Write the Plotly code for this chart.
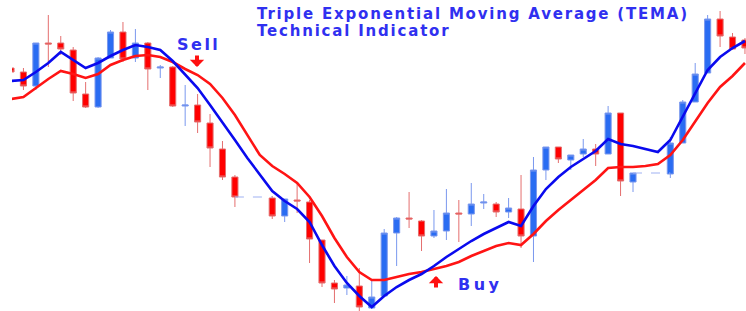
import plotly.graph_objects as go

# ---------------- data (price units) ----------------
candle_idx = [0, 1, 2, 3, 4, 5, 6, 7, 8, 9, 10, 11, 12, 13, 14, 15, 16, 17, 18,
              21, 22, 23, 24, 25, 26, 27, 28, 29, 30, 31, 32, 33, 34, 35, 36, 37, 38, 39, 40,
              41, 42, 43, 44, 45, 46, 47, 48, 49, 50,
              53, 54, 55, 56, 57, 58, 59]
opens  = [243, 239, 225, 268, 268, 261, 217, 204, 253, 279, 253, 268, 243, 244, 205, 206, 188, 162, 134,
          113, 95, 111, 109, 71, 28, 23, 25, 3, 15, 78, 93, 90, 75, 80, 98, 97, 108, 107, 99,
          102, 75, 141, 164, 151, 157, 162, 157, 198, 129,
          137, 168, 209, 238, 292, 274, 271]
highs  = [245, 243, 268, 296, 275, 264, 229, 254, 281, 289, 282, 269, 246, 245, 226, 217, 197, 170, 136,
          115, 112, 127, 111, 71, 31, 35, 43, 31, 82, 94, 119, 91, 101, 122, 111, 128, 117, 109, 113,
          136, 154, 164, 164, 156, 172, 167, 205, 198, 138,
          174, 211, 248, 296, 300, 278, 273]
lows   = [237, 221, 221, 244, 256, 210, 203, 203, 253, 249, 249, 221, 233, 204, 185, 178, 144, 131, 104,
          92, 89, 98, 48, 24, 8, 16, 0, 2, 14, 45, 83, 60, 73, 71, 69, 85, 102, 94, 93,
          63, 49, 131, 148, 141, 154, 145, 157, 115, 119,
          133, 168, 209, 238, 264, 261, 257]
closes = [239, 225, 268, 267, 262, 218, 204, 253, 279, 252, 268, 242, 244, 205, 206, 189, 163, 134, 114,
          95, 112, 110, 72, 28, 22, 26, 4, 14, 78, 93, 92, 75, 80, 98, 97, 107, 109, 99, 103,
          75, 141, 164, 152, 156, 162, 157, 198, 130, 138,
          168, 209, 237, 292, 275, 262, 263]

line_idx = list(range(60))
tema_fast = [230, 231, 239, 248, 259, 251, 243, 248, 255, 261, 266, 264, 261, 250, 237, 223, 206, 189, 171, 153,
             136, 120, 110, 102, 89, 66, 45, 28, 15, 4, 15, 24, 31, 37, 45, 54, 62, 70, 77, 83,
             89, 85, 105, 122, 134, 144, 152, 160, 172, 167, 165, 162, 159, 171, 194, 218, 241, 254, 263, 270]
tema_slow = [212, 214, 223, 232, 240, 237, 233, 237, 246, 251, 255, 256, 254, 249, 242, 236, 227, 213, 196, 176,
             156, 145, 137, 128, 114, 95, 73, 54, 39, 31, 31, 34, 37, 39, 42, 45, 49, 55, 60, 65,
             68, 66, 77, 90, 101, 111, 121, 131, 143, 144, 144, 145, 147, 156, 171, 189, 208, 224, 235, 248]

gaps = [(18, 21), (50, 53)]   # sessions without candles

title_lines = ["Triple Exponential Moving Average (TEMA)", "Technical Indicator"]
sell_label = "Sell"
buy_label = "Buy"

# ---------------- figure ----------------
W, H = 746, 311
ML = 12


def px(x):
    return (x - ML) / (W - ML)


def py(y):
    return 1 - y / H


def spaced(t, ls):
    return f'<span style="letter-spacing:{ls}px">{t}</span>'


fig = go.Figure()

close_of = dict(zip(candle_idx, closes))
for a, b in gaps:
    fig.add_trace(go.Scatter(x=[a, b], y=[close_of[a], close_of[a]], mode="lines",
                             line=dict(color="#9fb1f2", width=1, dash="dash"),
                             hoverinfo="skip", showlegend=False))

fig.add_trace(go.Candlestick(
    x=candle_idx, open=opens, high=highs, low=lows, close=closes,
    increasing=dict(line=dict(color="#7a98ee", width=1), fillcolor="#2a6cf2"),
    decreasing=dict(line=dict(color="#e46f6f", width=1), fillcolor="#ff0000"),
    whiskerwidth=0, showlegend=False, hoverinfo="skip"))

fig.add_trace(go.Scatter(x=line_idx, y=tema_slow, mode="lines",
                         line=dict(color="#ff1414", width=2.6), showlegend=False, hoverinfo="skip"))
fig.add_trace(go.Scatter(x=line_idx, y=tema_fast, mode="lines",
                         line=dict(color="#0a0aee", width=2.6), showlegend=False, hoverinfo="skip"))

title_font = dict(family="DejaVu Sans", size=15, color="#3030f0", weight="bold")
label_font = dict(family="DejaVu Sans", size=16, color="#3030f0", weight="bold")

fig.add_annotation(x=px(255), y=py(13.5), xref="paper", yref="paper", text=spaced(title_lines[0], 1.8),
                   showarrow=False, xanchor="left", yanchor="middle", font=title_font)
fig.add_annotation(x=px(255), y=py(30.5), xref="paper", yref="paper", text=spaced(title_lines[1], 1.8),
                   showarrow=False, xanchor="left", yanchor="middle", font=title_font)
fig.add_annotation(x=px(198.5), y=py(44), xref="paper", yref="paper", text=spaced(sell_label, 2.5),
                   showarrow=False, xanchor="center", yanchor="middle", font=label_font)
fig.add_annotation(x=px(480.5), y=py(284), xref="paper", yref="paper", text=spaced(buy_label, 3.5),
                   showarrow=False, xanchor="center", yanchor="middle", font=label_font)

# arrows
fig.add_annotation(x=px(197), y=py(67), xref="paper", yref="paper", text="", showarrow=True,
                   ax=0, ay=-13, arrowhead=1, arrowsize=0.6, arrowwidth=4, arrowcolor="#ff1010")
fig.add_annotation(x=px(436), y=py(276), xref="paper", yref="paper", text="", showarrow=True,
                   ax=0, ay=13, arrowhead=1, arrowsize=0.6, arrowwidth=4, arrowcolor="#ff1010")

fig.update_layout(
    width=W, height=H,
    margin=dict(l=ML, r=0, t=0, b=0),
    paper_bgcolor="white", plot_bgcolor="white",
    showlegend=False,
    xaxis=dict(range=[(12 - 11) / 12.44, (746 - 11) / 12.44], visible=False,
               rangeslider=dict(visible=False), showgrid=False, zeroline=False),
    yaxis=dict(range=[0, 311], visible=False, showgrid=False, zeroline=False),
)

fig.write_html("out.html", config={"displayModeBar": False, "staticPlot": True},
               post_script="document.body.style.margin='0';")
